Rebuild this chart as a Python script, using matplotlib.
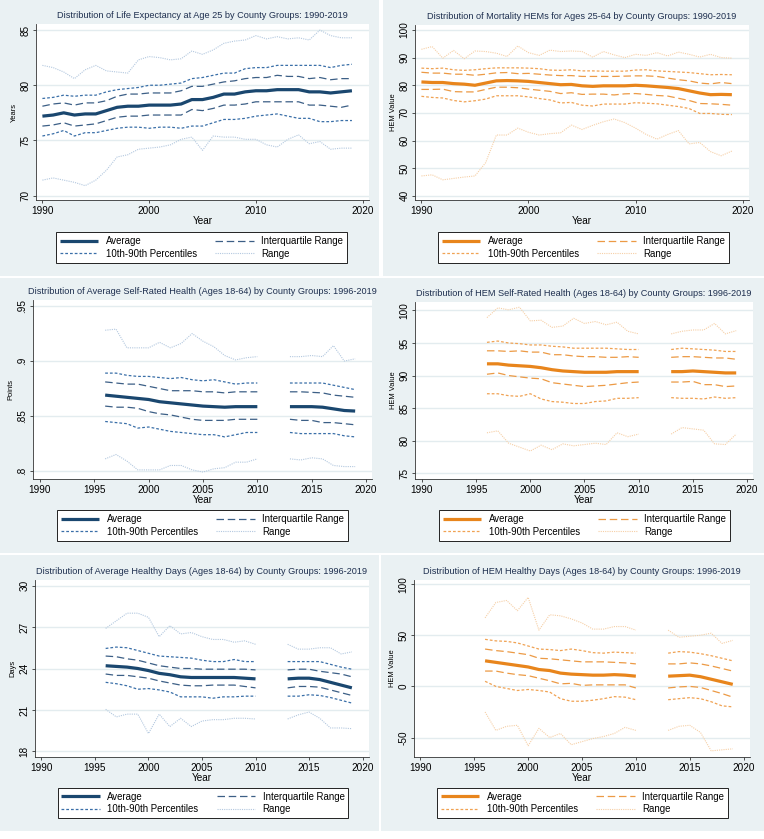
import numpy as np
import matplotlib
matplotlib.use("Agg")
import matplotlib.pyplot as plt
from matplotlib.patches import Rectangle

plt.rcParams['font.family'] = ['Liberation Sans', 'DejaVu Sans']

# ---- data ----
years_full = list(range(1990, 2020))
years_a = list(range(1996, 2011))
years_b = list(range(2013, 2020))

# Life expectancy at age 25
le_avg = [77.2, 77.3, 77.5, 77.3, 77.4, 77.4, 77.7, 78.0, 78.1, 78.1, 78.2, 78.2, 78.2, 78.3, 78.7,
          78.7, 78.9, 79.2, 79.2, 79.4, 79.5, 79.5, 79.6, 79.6, 79.6, 79.4, 79.4, 79.3, 79.4, 79.5]
le_p75 = [78.1, 78.3, 78.4, 78.2, 78.4, 78.4, 78.6, 79.0, 79.2, 79.2, 79.3, 79.3, 79.3, 79.5, 79.9,
          79.9, 80.1, 80.3, 80.4, 80.6, 80.7, 80.7, 80.9, 80.8, 80.8, 80.6, 80.7, 80.5, 80.6, 80.6]
le_p25 = [76.3, 76.4, 76.6, 76.3, 76.4, 76.5, 76.8, 77.1, 77.2, 77.2, 77.3, 77.3, 77.3, 77.3, 77.8,
          77.7, 77.9, 78.2, 78.2, 78.3, 78.5, 78.5, 78.5, 78.5, 78.5, 78.2, 78.2, 78.1, 78.0, 78.2]
le_p90 = [78.8, 78.9, 79.1, 79.0, 79.1, 79.1, 79.4, 79.6, 79.7, 79.8, 80.0, 80.0, 80.1, 80.2, 80.6,
          80.7, 80.9, 81.1, 81.1, 81.5, 81.6, 81.6, 81.8, 81.8, 81.8, 81.8, 81.8, 81.6, 81.8, 81.9]
le_p10 = [75.4, 75.6, 75.9, 75.4, 75.7, 75.7, 75.9, 76.1, 76.2, 76.2, 76.1, 76.2, 76.2, 76.1, 76.3,
          76.3, 76.6, 76.9, 76.9, 77.0, 77.2, 77.3, 77.4, 77.2, 77.0, 77.0, 76.7, 76.7, 76.8, 76.8]
le_max = [81.8, 81.6, 81.2, 80.6, 81.4, 81.8, 81.3, 81.2, 81.1, 82.3, 82.6, 82.5, 82.3, 82.4, 83.1,
          82.8, 83.2, 83.8, 84.0, 84.1, 84.5, 84.2, 84.4, 84.2, 84.3, 84.1, 85.0, 84.5, 84.3, 84.3]
le_min = [71.4, 71.6, 71.4, 71.2, 70.9, 71.4, 72.3, 73.5, 73.7, 74.2, 74.3, 74.4, 74.6, 75.1, 75.3,
          74.1, 75.4, 75.3, 75.3, 75.1, 75.1, 74.6, 74.4, 75.1, 75.5, 74.7, 74.9, 74.2, 74.3, 74.3]

# Mortality HEMs, ages 25-64
mh_avg = [81.2, 81.0, 81.0, 80.6, 80.4, 80.0, 80.8, 81.6, 81.7, 81.6, 81.4, 81.0, 80.6, 80.2, 80.3,
          79.8, 79.6, 79.8, 79.8, 79.8, 80.0, 79.8, 79.5, 79.2, 78.8, 78.0, 77.2, 76.6, 76.7, 76.6]
mh_p75 = [84.7, 84.4, 84.4, 84.0, 84.0, 83.6, 84.0, 84.5, 84.6, 84.2, 84.3, 84.0, 83.7, 83.5, 83.5,
          83.2, 83.2, 83.2, 83.2, 83.3, 83.4, 83.4, 83.2, 82.6, 82.0, 81.6, 80.8, 80.5, 81.0, 80.6]
mh_p25 = [78.5, 78.5, 78.6, 77.7, 77.6, 77.6, 78.5, 79.3, 79.3, 79.1, 78.6, 78.2, 77.8, 77.0, 77.3,
          76.7, 76.8, 76.8, 76.5, 76.9, 77.0, 76.7, 76.3, 76.1, 75.3, 74.5, 73.4, 73.3, 73.1, 72.8]
mh_p90 = [86.2, 86.0, 86.2, 85.6, 85.4, 85.6, 86.0, 86.3, 86.3, 86.3, 86.2, 86.0, 85.5, 85.4, 85.6,
          85.2, 85.2, 85.1, 85.1, 85.1, 85.5, 85.6, 85.2, 85.0, 84.8, 84.6, 84.2, 83.8, 83.9, 83.8]
mh_p10 = [76.0, 75.6, 75.4, 74.5, 74.0, 74.4, 75.0, 76.2, 76.2, 76.2, 75.8, 75.2, 74.7, 73.6, 73.8,
          72.8, 72.5, 73.2, 73.2, 73.2, 73.7, 73.5, 73.3, 72.8, 72.3, 71.6, 69.8, 69.8, 69.5, 69.4]
mh_max = [93.0, 94.0, 89.8, 92.6, 89.6, 92.4, 92.2, 91.6, 90.4, 94.2, 91.8, 90.8, 92.7, 92.2, 92.4,
          92.2, 90.2, 92.2, 91.0, 90.0, 91.2, 90.8, 91.8, 90.6, 92.0, 91.2, 90.2, 91.2, 90.0, 89.8]
mh_min = [47.2, 47.6, 45.8, 46.3, 46.8, 47.2, 52.0, 62.0, 62.0, 64.5, 63.0, 62.0, 62.5, 62.8, 65.6,
          64.0, 65.5, 66.8, 67.8, 66.5, 64.5, 62.2, 60.5, 62.2, 63.6, 58.8, 59.3, 56.0, 54.5, 56.2]

# Average self-rated health (points), 1996-2010 and 2013-2019
sr_avg = [.869, .868, .867, .866, .865, .863, .862, .861, .860, .859, .8585, .858, .8585, .8585, .8585,
          .8585, .8585, .8585, .858, .8565, .855, .8545]
sr_p75 = [.881, .880, .879, .879, .877, .875, .873, .873, .873, .872, .872, .871, .872, .872, .872,
          .872, .872, .8715, .871, .869, .868, .867]
sr_p25 = [.859, .858, .858, .857, .854, .852, .851, .849, .847, .846, .846, .846, .847, .847, .847,
          .847, .846, .846, .844, .844, .843, .842]
sr_p90 = [.889, .889, .887, .886, .886, .885, .884, .885, .883, .882, .883, .881, .879, .880, .880,
          .880, .880, .880, .880, .878, .876, .874]
sr_p10 = [.845, .844, .843, .839, .840, .838, .836, .835, .834, .833, .833, .831, .833, .835, .835,
          .835, .834, .834, .834, .834, .832, .831]
sr_max = [.928, .929, .912, .912, .912, .917, .912, .916, .925, .918, .913, .905, .901, .903, .904,
          .904, .904, .905, .904, .914, .900, .902]
sr_min = [.811, .815, .809, .801, .801, .801, .805, .805, .801, .799, .802, .803, .808, .808, .811,
          .811, .810, .812, .811, .805, .804, .804]

# HEM self-rated health
hs_avg = [91.8, 91.8, 91.6, 91.5, 91.4, 91.2, 90.9, 90.7, 90.6, 90.5, 90.5, 90.5, 90.6, 90.6, 90.6,
          90.6, 90.6, 90.7, 90.6, 90.5, 90.4, 90.4]
hs_p75 = [93.8, 93.8, 93.7, 93.8, 93.6, 93.6, 93.2, 93.2, 93.0, 92.9, 92.9, 92.8, 92.8, 92.9, 92.8,
          92.8, 92.9, 92.9, 92.8, 92.7, 92.7, 92.5]
hs_p25 = [90.2, 90.4, 90.0, 89.8, 89.6, 89.5, 88.9, 88.7, 88.5, 88.3, 88.4, 88.5, 88.7, 88.9, 89.0,
          89.0, 89.0, 89.1, 88.6, 88.6, 88.3, 88.4]
hs_p90 = [95.1, 95.3, 95.0, 94.9, 94.7, 94.7, 94.5, 94.4, 94.2, 94.2, 94.2, 94.2, 94.1, 94.0, 94.0,
          94.0, 94.2, 94.1, 94.0, 93.9, 93.7, 93.7]
hs_p10 = [87.2, 87.2, 86.9, 86.8, 87.2, 86.4, 86.0, 85.9, 85.7, 85.7, 86.0, 86.1, 86.5, 86.5, 86.6,
          86.6, 86.5, 86.5, 86.4, 86.7, 86.5, 86.6]
hs_max = [98.9, 100.4, 100.1, 100.5, 98.4, 98.5, 97.4, 97.6, 98.8, 98.0, 98.3, 97.8, 98.2, 96.8, 96.4,
          96.4, 96.8, 97.0, 97.0, 98.0, 96.4, 96.9]
hs_min = [81.2, 81.5, 79.6, 79.0, 78.4, 79.3, 78.6, 79.5, 79.2, 79.4, 79.6, 79.4, 81.2, 80.6, 81.0,
          81.0, 82.0, 81.8, 81.6, 79.5, 79.4, 81.0]

# Average healthy days
hd_avg = [24.2, 24.15, 24.1, 24.0, 23.85, 23.65, 23.55, 23.4, 23.35, 23.35, 23.35, 23.35, 23.35, 23.3, 23.25,
          23.25, 23.3, 23.3, 23.2, 23.0, 22.8, 22.6]
hd_p75 = [24.9, 24.85, 24.7, 24.6, 24.4, 24.2, 24.1, 24.0, 24.0, 23.95, 23.95, 23.95, 23.95, 23.95, 23.9,
          23.9, 23.95, 23.95, 23.8, 23.7, 23.6, 23.4]
hd_p25 = [23.6, 23.5, 23.5, 23.4, 23.3, 23.1, 22.95, 22.8, 22.75, 22.75, 22.8, 22.8, 22.8, 22.7, 22.6,
          22.6, 22.7, 22.7, 22.65, 22.45, 22.25, 22.05]
hd_p90 = [25.45, 25.55, 25.5, 25.3, 25.1, 24.9, 24.85, 24.8, 24.75, 24.6, 24.5, 24.5, 24.65, 24.5, 24.5,
          24.5, 24.5, 24.5, 24.5, 24.3, 24.1, 23.95]
hd_p10 = [23.0, 22.9, 22.75, 22.5, 22.55, 22.45, 22.3, 21.95, 21.95, 21.95, 21.85, 21.95, 21.95, 22.0, 22.0,
          22.0, 22.0, 22.1, 22.05, 21.9, 21.7, 21.5]
hd_max = [26.9, 27.45, 28.0, 28.0, 27.7, 26.3, 27.1, 26.5, 26.6, 26.3, 26.1, 26.1, 25.9, 26.0, 25.75,
          25.75, 25.4, 25.4, 25.5, 25.5, 25.05, 25.2]
hd_min = [21.05, 20.5, 20.7, 20.7, 19.3, 20.7, 19.8, 20.4, 19.8, 20.2, 20.3, 20.3, 20.4, 20.4, 20.35,
          20.35, 20.65, 20.85, 20.4, 19.7, 19.7, 19.65]

# HEM healthy days
hh_avg = [25, 23.5, 22, 20.5, 19, 16.5, 15.5, 13, 12, 11.5, 11, 11, 11.5, 11, 10,
          10, 10.5, 11, 9.5, 7, 4.5, 2]
hh_p75 = [36.5, 35, 34, 32.5, 31, 27.5, 27, 26, 25, 24, 24, 24, 23.5, 23, 22,
          22, 22, 23, 22, 20, 17.5, 15]
hh_p25 = [15, 15, 13, 11.5, 10.5, 8, 5.5, 2.5, 3, 1, 1.5, 1.5, 1.5, 1.5, -1.5,
          -1.5, -0.5, 0, -1, -4, -7, -10.5]
hh_p90 = [46, 44.5, 44, 42.5, 39.5, 36.5, 36, 35, 36.5, 35, 33, 32.5, 33.5, 33, 32.5,
          32.5, 34, 33.5, 32, 30, 27.5, 25]
hh_p10 = [5, 0, -2, -4, -3, -4, -5.5, -12, -14.5, -14.5, -13.5, -12, -10, -10.5, -13,
          -13, -12, -11, -12, -15, -19, -20]
hh_max = [67, 82, 84, 74, 87, 55, 70, 69, 66, 62, 56, 56, 58.5, 58.5, 55,
          55, 48, 49, 50, 52, 42, 45]
hh_min = [-25, -43, -39, -38, -58, -41, -50, -46, -57, -54, -51, -49, -46, -40, -43,
          -43, -39, -38, -45, -63, -62, -61]

# ---- styling ----
W, H = 764, 839
BG = '#eaf1f3'
NAVY = dict(avg='#1a476f', iqr='#3c5f86', pct='#3a6fa8', rng='#b3c8df')
ORANGE = dict(avg='#e8851c', iqr='#ec9a45', pct='#f0a253', rng='#f6cfa6')
TITLE_C = '#1e2f4f'

fig = plt.figure(figsize=(W / 100, H / 100), dpi=100, facecolor='white')


def fx(px):
    return px / W


def fy(py):
    return 1 - py / H


# light panel backgrounds (six pasted Stata graphs)
for (x0, y0, x1, y1) in [(0, 0, 379, 276), (383, 0, 764, 276),
                         (0, 278, 381, 553), (381, 278, 764, 553),
                         (0, 555, 379, 831), (381, 555, 764, 831)]:
    fig.patches.append(Rectangle((fx(x0), fy(y1)), fx(x1 - x0), (y1 - y0) / H,
                                 transform=fig.transFigure, facecolor=BG,
                                 edgecolor='none', zorder=-10))

panels = [
    dict(box=(36, 24, 369, 200), title='Distribution of Life Expectancy at Age 25 by County Groups: 1990-2019',
         ylabel='Years', ylim=(69.6, 85.55), yticks=[70, 75, 80, 85], ylabs=['70', '75', '80', '85'],
         xticks=[1990, 2000, 2010, 2020], xlim=(1989.4, 2020.6), colors=NAVY, split=False,
         data=(le_avg, le_p75, le_p25, le_p90, le_p10, le_max, le_min), leg=(61, 232, 342, 263)),
    dict(box=(415, 25, 749, 200), title='Distribution of Mortality HEMs for Ages 25-64 by County Groups: 1990-2019',
         ylabel='HEM Value', ylim=(38.5, 101.8), yticks=[40, 50, 60, 70, 80, 90, 100],
         ylabs=['40', '50', '60', '70', '80', '90', '100'],
         xticks=[1990, 2000, 2010, 2020], xlim=(1989.4, 2020.6), colors=ORANGE, split=False,
         data=(mh_avg, mh_p75, mh_p25, mh_p90, mh_p10, mh_max, mh_min), leg=(443, 232, 724, 263)),
    dict(box=(33, 300, 372, 479), title='Distribution of Average Self-Rated Health (Ages 18-64) by County Groups: 1996-2019',
         ylabel='Points', ylim=(0.7927, 0.9555), yticks=[.8, .85, .9, .95], ylabs=['.8', '.85', '.9', '.95'],
         xticks=list(range(1990, 2021, 5)), xlim=(1989.36, 2020.55), colors=NAVY, split=True,
         data=(sr_avg, sr_p75, sr_p25, sr_p90, sr_p10, sr_max, sr_min), leg=(60, 509, 345, 542)),
    dict(box=(415, 302, 753, 479), title='Distribution of HEM Self-Rated Health (Ages 18-64) by County Groups: 1996-2019',
         ylabel='HEM Value', ylim=(74.1, 101.3), yticks=[75, 80, 85, 90, 95, 100],
         ylabs=['75', '80', '85', '90', '95', '100'],
         xticks=list(range(1990, 2021, 5)), xlim=(1989.36, 2020.55), colors=ORANGE, split=True,
         data=(hs_avg, hs_p75, hs_p25, hs_p90, hs_p10, hs_max, hs_min), leg=(442, 509, 727, 542)),
    dict(box=(35, 580, 369, 757), title='Distribution of Average Healthy Days (Ages 18-64) by County Groups: 1996-2019',
         ylabel='Days', ylim=(17.6, 30.4), yticks=[18, 21, 24, 27, 30], ylabs=['18', '21', '24', '27', '30'],
         xticks=list(range(1990, 2021, 5)), xlim=(1989.4, 2020.6), colors=NAVY, split=True,
         data=(hd_avg, hd_p75, hd_p25, hd_p90, hd_p10, hd_max, hd_min), leg=(61, 788, 345, 818)),
    dict(box=(414, 580, 750, 757), title='Distribution of HEM Healthy Days (Ages 18-64) by County Groups: 1996-2019',
         ylabel='HEM Value', ylim=(-69, 104), yticks=[-50, 0, 50, 100], ylabs=['-50', '0', '50', '100'],
         xticks=list(range(1990, 2021, 5)), xlim=(1989.4, 2020.6), colors=ORANGE, split=True,
         data=(hh_avg, hh_p75, hh_p25, hh_p90, hh_p10, hh_max, hh_min), leg=(441, 788, 724, 818)),
]

FS = 6.6

for p in panels:
    x0, y0, x1, y1 = p['box']
    ax = fig.add_axes([fx(x0), fy(y1), fx(x1 - x0), (y1 - y0) / H])
    ax.set_facecolor('white')
    c = p['colors']
    avg, p75, p25, p90, p10, mx, mn = p['data']
    if p['split']:
        segs = [(years_a, slice(0, 15)), (years_b, slice(15, 22))]
    else:
        segs = [(years_full, slice(0, 30))]
    handles = None
    for yrs, s in segs:
        h_rng, = ax.plot(yrs, mx[s], color=c['rng'], lw=0.8, ls=(0, (1, 1)), zorder=2)
        ax.plot(yrs, mn[s], color=c['rng'], lw=0.8, ls=(0, (1, 1)), zorder=2)
        h_pct, = ax.plot(yrs, p90[s], color=c['pct'], lw=0.9, ls=(0, (2.2, 1.6)), zorder=3)
        ax.plot(yrs, p10[s], color=c['pct'], lw=0.9, ls=(0, (2.2, 1.6)), zorder=3)
        h_iqr, = ax.plot(yrs, p75[s], color=c['iqr'], lw=0.9, ls=(0, (6, 3)), zorder=4)
        ax.plot(yrs, p25[s], color=c['iqr'], lw=0.9, ls=(0, (6, 3)), zorder=4)
        h_avg, = ax.plot(yrs, avg[s], color=c['avg'], lw=2.3, solid_capstyle='butt', zorder=5)
        handles = [h_avg, h_pct, h_iqr, h_rng]

    ax.set_xlim(p['xlim'])
    ax.set_ylim(p['ylim'])
    ax.set_xticks(p['xticks'])
    ax.set_xticklabels([str(t) for t in p['xticks']], fontsize=FS + 0.6)
    ax.set_yticks(p['yticks'])
    ax.set_yticklabels(p['ylabs'], fontsize=FS + 0.6, rotation=90, va='center')
    ax.grid(axis='y', color='#e3ecef', lw=1.0, zorder=0)
    ax.set_axisbelow(True)
    for side in ('top', 'right'):
        ax.spines[side].set_visible(False)
    for side in ('left', 'bottom'):
        ax.spines[side].set_color('#333333')
        ax.spines[side].set_linewidth(0.6)
    ax.tick_params(length=2.5, width=0.6, pad=1.5, color='#333333')
    ax.set_xlabel('Year', fontsize=FS + 0.6, labelpad=0)
    ax.set_ylabel(p['ylabel'], fontsize=FS - 1.2, labelpad=2)
    ax.set_title(p['title'], fontsize=FS, color=TITLE_C, pad=4)

    lx0, ly0, lx1, ly1 = p['leg']
    leg = fig.legend(handles, ['Average', '10th-90th Percentiles', 'Interquartile Range', 'Range'],
                     ncol=2, loc='center',
                     bbox_to_anchor=(fx((lx0 + lx1) / 2), fy((ly0 + ly1) / 2)),
                     fontsize=FS + 0.3, frameon=True, fancybox=False, framealpha=1,
                     edgecolor='#222222', handlelength=4.0, handletextpad=0.8,
                     columnspacing=1.9, borderpad=0.4, labelspacing=0.25)
    leg.get_frame().set_linewidth(0.7)

fig.savefig('out.png', dpi=100, facecolor='white')
